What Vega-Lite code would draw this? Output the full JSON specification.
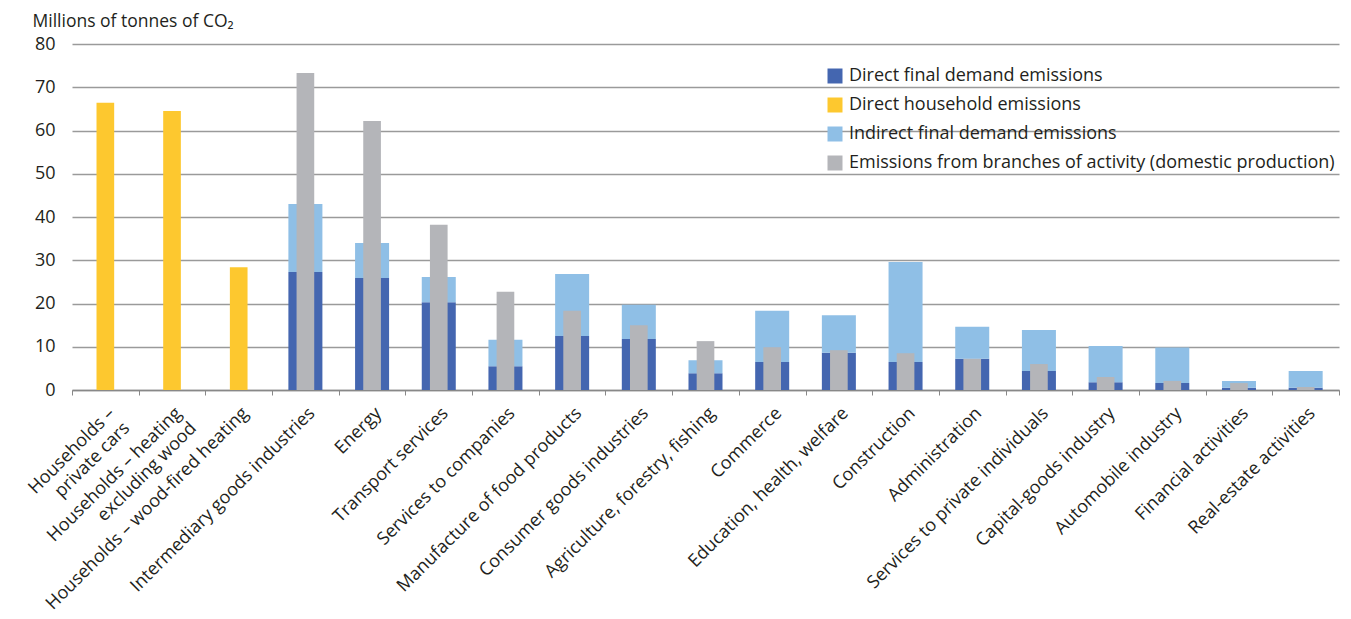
{
  "$schema": "https://vega.github.io/schema/vega-lite/v6.json",
  "width": 1267,
  "height": 346,
  "autosize": "none",
  "padding": {"left": 72, "top": 44, "right": 12, "bottom": 229},
  "background": "white",
  "data": {
    "values": [
      {"c": "Households – private cars", "s": "Direct household emissions", "v": 66.4},
      {"c": "Households – heating excluding wood", "s": "Direct household emissions", "v": 64.5},
      {"c": "Households – wood-fired heating", "s": "Direct household emissions", "v": 28.4},
      {"c": "Intermediary goods industries", "s": "Direct final demand emissions", "v": 27.3},
      {"c": "Intermediary goods industries", "s": "Indirect final demand emissions", "v": 15.7},
      {"c": "Intermediary goods industries", "s": "Emissions from branches of activity (domestic production)", "v": 73.3},
      {"c": "Energy", "s": "Direct final demand emissions", "v": 25.9},
      {"c": "Energy", "s": "Indirect final demand emissions", "v": 8.1},
      {"c": "Energy", "s": "Emissions from branches of activity (domestic production)", "v": 62.2},
      {"c": "Transport services", "s": "Direct final demand emissions", "v": 20.3},
      {"c": "Transport services", "s": "Indirect final demand emissions", "v": 5.8},
      {"c": "Transport services", "s": "Emissions from branches of activity (domestic production)", "v": 38.2},
      {"c": "Services to companies", "s": "Direct final demand emissions", "v": 5.5},
      {"c": "Services to companies", "s": "Indirect final demand emissions", "v": 6.1},
      {"c": "Services to companies", "s": "Emissions from branches of activity (domestic production)", "v": 22.7},
      {"c": "Manufacture of food products", "s": "Direct final demand emissions", "v": 12.5},
      {"c": "Manufacture of food products", "s": "Indirect final demand emissions", "v": 14.3},
      {"c": "Manufacture of food products", "s": "Emissions from branches of activity (domestic production)", "v": 18.3},
      {"c": "Consumer goods industries", "s": "Direct final demand emissions", "v": 11.8},
      {"c": "Consumer goods industries", "s": "Indirect final demand emissions", "v": 7.9},
      {"c": "Consumer goods industries", "s": "Emissions from branches of activity (domestic production)", "v": 15.0},
      {"c": "Agriculture, forestry, fishing", "s": "Direct final demand emissions", "v": 3.9},
      {"c": "Agriculture, forestry, fishing", "s": "Indirect final demand emissions", "v": 3.0},
      {"c": "Agriculture, forestry, fishing", "s": "Emissions from branches of activity (domestic production)", "v": 11.3},
      {"c": "Commerce", "s": "Direct final demand emissions", "v": 6.5},
      {"c": "Commerce", "s": "Indirect final demand emissions", "v": 11.8},
      {"c": "Commerce", "s": "Emissions from branches of activity (domestic production)", "v": 9.9},
      {"c": "Education, health, welfare", "s": "Direct final demand emissions", "v": 8.6},
      {"c": "Education, health, welfare", "s": "Indirect final demand emissions", "v": 8.7},
      {"c": "Education, health, welfare", "s": "Emissions from branches of activity (domestic production)", "v": 9.2},
      {"c": "Construction", "s": "Direct final demand emissions", "v": 6.5},
      {"c": "Construction", "s": "Indirect final demand emissions", "v": 23.1},
      {"c": "Construction", "s": "Emissions from branches of activity (domestic production)", "v": 8.5},
      {"c": "Administration", "s": "Direct final demand emissions", "v": 7.2},
      {"c": "Administration", "s": "Indirect final demand emissions", "v": 7.4},
      {"c": "Administration", "s": "Emissions from branches of activity (domestic production)", "v": 7.2},
      {"c": "Services to private individuals", "s": "Direct final demand emissions", "v": 4.4},
      {"c": "Services to private individuals", "s": "Indirect final demand emissions", "v": 9.5},
      {"c": "Services to private individuals", "s": "Emissions from branches of activity (domestic production)", "v": 6.0},
      {"c": "Capital-goods industry", "s": "Direct final demand emissions", "v": 1.8},
      {"c": "Capital-goods industry", "s": "Indirect final demand emissions", "v": 8.4},
      {"c": "Capital-goods industry", "s": "Emissions from branches of activity (domestic production)", "v": 3.0},
      {"c": "Automobile industry", "s": "Direct final demand emissions", "v": 1.6},
      {"c": "Automobile industry", "s": "Indirect final demand emissions", "v": 8.2},
      {"c": "Automobile industry", "s": "Emissions from branches of activity (domestic production)", "v": 2.1},
      {"c": "Financial activities", "s": "Direct final demand emissions", "v": 0.5},
      {"c": "Financial activities", "s": "Indirect final demand emissions", "v": 1.6},
      {"c": "Financial activities", "s": "Emissions from branches of activity (domestic production)", "v": 1.6},
      {"c": "Real-estate activities", "s": "Direct final demand emissions", "v": 0.5},
      {"c": "Real-estate activities", "s": "Indirect final demand emissions", "v": 3.9},
      {"c": "Real-estate activities", "s": "Emissions from branches of activity (domestic production)", "v": 0.7}
    ]
  },
  "encoding": {
    "x": {
      "field": "c",
      "type": "nominal",
      "title": null,
      "scale": {
        "domain": [
          "Households – private cars",
          "Households – heating excluding wood",
          "Households – wood-fired heating",
          "Intermediary goods industries",
          "Energy",
          "Transport services",
          "Services to companies",
          "Manufacture of food products",
          "Consumer goods industries",
          "Agriculture, forestry, fishing",
          "Commerce",
          "Education, health, welfare",
          "Construction",
          "Administration",
          "Services to private individuals",
          "Capital-goods industry",
          "Automobile industry",
          "Financial activities",
          "Real-estate activities"
        ],
        "paddingInner": 0,
        "paddingOuter": 0
      },
      "axis": {
        "labelAngle": -45,
        "labelAlign": "right",
        "labelBaseline": "top",
        "labelPadding": 9,
        "labelFontSize": 18,
        "labelLimit": 0,
        "labelLineHeight": 21,
        "tickBand": "extent",
        "tickSize": 5,
        "tickColor": "#888888",
        "domainColor": "#888888",
        "domainWidth": 1.5,
        "labelExpr": "datum.label == 'Households – private cars' ? ['Households –', 'private cars'] : datum.label == 'Households – heating excluding wood' ? ['Households –  heating', 'excluding wood'] : datum.label == 'Households – wood-fired heating' ? 'Households –  wood-fired heating' : datum.label"
      }
    },
    "y": {
      "field": "v",
      "type": "quantitative",
      "scale": {"domain": [0, 80]},
      "axis": {
        "title": "Millions of tonnes of CO₂",
        "titleAngle": 0,
        "titleAlign": "left",
        "titleBaseline": "alphabetic",
        "titleX": -40,
        "titleY": -18,
        "titleFontWeight": "normal",
        "titleFontSize": 17.5,
        "tickCount": 8,
        "ticks": false,
        "domain": false,
        "labelPadding": 17,
        "labelFontSize": 18,
        "gridColor": "#9a9a9a",
        "gridWidth": 1.3
      }
    },
    "color": {
      "field": "s",
      "type": "nominal",
      "scale": {
        "domain": [
          "Direct final demand emissions",
          "Direct household emissions",
          "Indirect final demand emissions",
          "Emissions from branches of activity (domestic production)"
        ],
        "range": ["#4466b0", "#fdc82f", "#8fbfe6", "#b4b5b9"]
      },
      "legend": {
        "title": null,
        "orient": "none",
        "legendX": 754,
        "legendY": 23,
        "symbolType": "square",
        "symbolSize": 225,
        "symbolStrokeWidth": 0,
        "labelFontSize": 18,
        "labelLimit": 700,
        "labelOffset": 5,
        "rowPadding": 11
      }
    }
  },
  "layer": [
    {
      "transform": [
        {"filter": "datum.s == 'Direct final demand emissions' || datum.s == 'Indirect final demand emissions'"}
      ],
      "mark": {"type": "bar", "width": {"band": 0.51}},
      "encoding": {
        "order": {"field": "s", "sort": "ascending"}
      }
    },
    {
      "transform": [{"filter": "datum.s == 'Direct household emissions'"}],
      "mark": {"type": "bar", "width": {"band": 0.265}},
      "encoding": {
        "y": {"field": "v", "type": "quantitative", "stack": null}
      }
    },
    {
      "transform": [{"filter": "datum.s == 'Emissions from branches of activity (domestic production)'"}],
      "mark": {"type": "bar", "width": {"band": 0.265}},
      "encoding": {
        "y": {"field": "v", "type": "quantitative", "stack": null}
      }
    }
  ],
  "config": {
    "font": "Open Sans",
    "view": {"stroke": null},
    "axis": {
      "labelColor": "#231f20",
      "titleColor": "#231f20"
    },
    "legend": {"labelColor": "#231f20"}
  }
}
